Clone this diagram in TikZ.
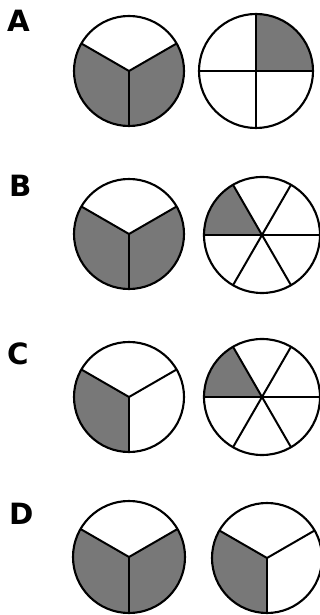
\documentclass[tikz,border=0pt]{standalone}
\usepackage{fontspec}
\setsansfont{DejaVu Sans}
\usepackage{tikz}
\tikzset{
  kor/.style={draw,line width=1.8pt},
  kullo/.style={line width=1.7pt},
  folt/.style={fill=black!53},
  betu/.style={font=\sffamily\bfseries\fontsize{25}{25}\selectfont,anchor=north west,inner sep=0pt},
}

\begin{document}
\begin{tikzpicture}[x=0.03cm,y=0.03cm]
  \useasboundingbox (0,0) rectangle (320,615);
  % A
  \node[betu] (A) at (7,605) {A};
  \fill[folt] (129,544) -- ++(150:55) arc (150:390:55) -- cycle;
  \draw[kor] (129,544) circle (55);
  \foreach \s in {30,150,270} \draw[kullo] (129,544) -- ++(\s:55);
  \fill[folt] (256,544) -- ++(0:57) arc (0:90:57) -- cycle;
  \draw[kor] (256,544) circle (57);
  \foreach \s in {0,90,180,270} \draw[kullo] (256,544) -- ++(\s:57);
  % B
  \node[betu] (B) at (9,440) {B};
  \fill[folt] (129,381) -- ++(150:55) arc (150:390:55) -- cycle;
  \draw[kor] (129,381) circle (55);
  \foreach \s in {30,150,270} \draw[kullo] (129,381) -- ++(\s:55);
  \fill[folt] (262,380) -- ++(120:58) arc (120:180:58) -- cycle;
  \draw[kor] (262,380) circle (58);
  \foreach \s in {0,60,...,300} \draw[kullo] (262,380) -- ++(\s:58);
  % C
  \node[betu] (C) at (7,272) {C};
  \fill[folt] (129,218) -- ++(150:55) arc (150:270:55) -- cycle;
  \draw[kor] (129,218) circle (55);
  \foreach \s in {30,150,270} \draw[kullo] (129,218) -- ++(\s:55);
  \fill[folt] (262,218) -- ++(120:58) arc (120:180:58) -- cycle;
  \draw[kor] (262,218) circle (58);
  \foreach \s in {0,60,...,300} \draw[kullo] (262,218) -- ++(\s:58);
  % D
  \node[betu] (D) at (9,112) {D};
  \fill[folt] (129,58) -- ++(150:56) arc (150:390:56) -- cycle;
  \draw[kor] (129,58) circle (56);
  \foreach \s in {30,150,270} \draw[kullo] (129,58) -- ++(\s:56);
  \fill[folt] (267,57) -- ++(150:55) arc (150:270:55) -- cycle;
  \draw[kor] (267,57) circle (55);
  \foreach \s in {30,150,270} \draw[kullo] (267,57) -- ++(\s:55);
\end{tikzpicture}
\end{document}
